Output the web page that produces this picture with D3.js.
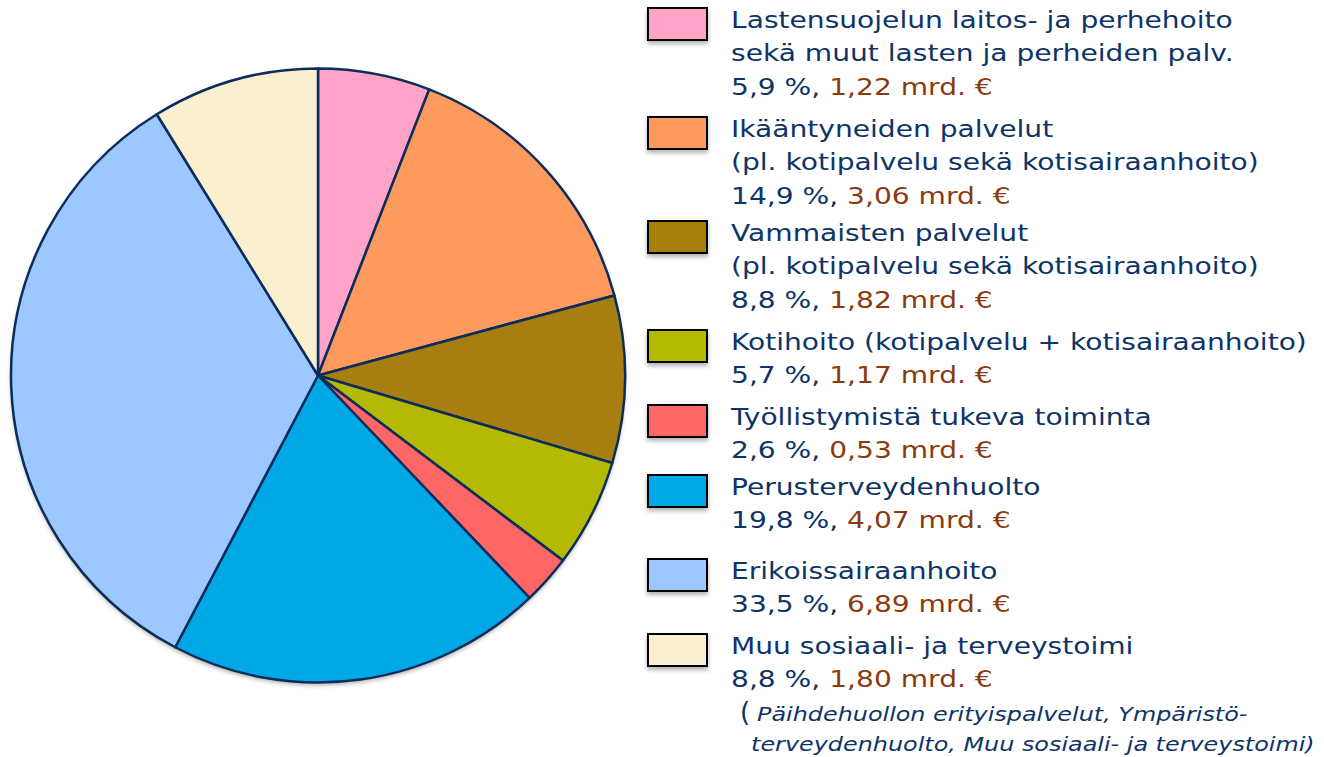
<!DOCTYPE html>
<html>
<head>
<meta charset="utf-8">
<script src="https://cdn.jsdelivr.net/npm/d3@7"></script>
<style>
  body { margin: 0; background: #fff; }
  text { font-family: "DejaVu Sans", Verdana, sans-serif; }
</style>
</head>
<body>
<div id="chart"></div>
<script>
// data, clockwise from 12 o'clock
const names = [
  ["Lastensuojelun laitos- ja perhehoito", "sekä muut lasten ja perheiden palv."],
  ["Ikääntyneiden palvelut", "(pl. kotipalvelu sekä kotisairaanhoito)"],
  ["Vammaisten palvelut", "(pl. kotipalvelu sekä kotisairaanhoito)"],
  ["Kotihoito (kotipalvelu + kotisairaanhoito)"],
  ["Työllistymistä tukeva toiminta"],
  ["Perusterveydenhuolto"],
  ["Erikoissairaanhoito"],
  ["Muu sosiaali- ja terveystoimi"]
];
const shares = [5.9, 14.9, 8.8, 5.7, 2.6, 19.8, 33.5, 8.8];
const amounts = ["1,22", "3,06", "1,82", "1,17", "0,53", "4,07", "6,89", "1,80"];
const fills = ["#ffa3c8", "#ff9a5e", "#a67f10", "#b4ba04", "#ff6666", "#00a9e5", "#9cc8ff", "#faf0d0"];
const note = ["Päihdehuollon erityispalvelut, Ympäristö-", "terveydenhuolto, Muu sosiaali- ja terveystoimi)"];

const width = 1324, height = 757;
const navy = "#0e3467", brown = "#8b3a10";
const cx = 318, cy = 375.5, r = 307;
const legendX = 648, textX = 731, lineH = 33.5;
const legendBase = [28, 137, 241, 350, 425, 495, 579, 654]; // first baseline of each item

const svg = d3.select("#chart").append("svg")
  .attr("width", width).attr("height", height);

const defs = svg.append("defs");
const sh = defs.append("filter").attr("id", "shadow")
  .attr("x", "-10%").attr("y", "-10%").attr("width", "130%").attr("height", "140%");
sh.append("feDropShadow").attr("dx", 0).attr("dy", 3).attr("stdDeviation", 2)
  .attr("flood-color", "#000").attr("flood-opacity", 0.3);

// pie
const pie = d3.pie().sort(null).value(d => d);
const arc = d3.arc().innerRadius(0).outerRadius(r);

const g = svg.append("g").attr("transform", `translate(${cx},${cy})`);
g.append("circle").attr("r", r).attr("fill", "#fff").attr("filter", "url(#shadow)");
g.selectAll("path")
  .data(pie(shares))
  .join("path")
  .attr("d", arc)
  .attr("fill", (d, i) => fills[i])
  .attr("stroke", "#0c2d5b")
  .attr("stroke-width", 2.5)
  .attr("stroke-linejoin", "round");

// legend
const fontSize = 23;
const leg = svg.append("g");

// measure natural width to match the reference spacing
const probe = svg.append("text").attr("font-size", fontSize).text(names[0][1]);
const sx = 503 / probe.node().getComputedTextLength();
probe.remove();

names.forEach((lines, i) => {
  const y0 = legendBase[i];
  leg.append("rect")
    .attr("x", legendX).attr("y", y0 - 20)
    .attr("width", 59).attr("height", 32)
    .attr("fill", fills[i])
    .attr("stroke", "#000").attr("stroke-width", 2)
    .attr("filter", "url(#shadow)");

  const tg = leg.append("g").attr("transform", `translate(${textX},0) scale(${sx},1)`);
  lines.forEach((s, j) => {
    tg.append("text").attr("x", 0).attr("y", y0 + j * lineH)
      .attr("font-size", fontSize).attr("fill", navy).text(s);
  });
  const vt = tg.append("text").attr("x", 0).attr("y", y0 + lines.length * lineH)
    .attr("font-size", fontSize);
  vt.append("tspan").attr("fill", navy).text(shares[i].toFixed(1).replace(".", ",") + " %, ");
  vt.append("tspan").attr("fill", brown).text(amounts[i] + " mrd. €");
});

// note under the last item, squeezed to end where the reference ends
const ny = legendBase[7] + 2 * lineH;
leg.append("text").attr("x", 740).attr("y", ny).attr("font-size", 26).attr("fill", navy).text("(");
const ng = leg.append("g");
const n1 = ng.append("text").attr("x", 0).attr("y", ny).attr("font-size", 20)
  .attr("font-style", "italic").attr("fill", navy).text(note[0]);
const n2 = ng.append("text").attr("x", -5).attr("y", ny + 30).attr("font-size", 20)
  .attr("font-style", "italic").attr("fill", navy).text(note[1]);
const nsx = 564 / n2.node().getComputedTextLength();
ng.attr("transform", `translate(757,0) scale(${nsx},1)`);
</script>
</body>
</html>
